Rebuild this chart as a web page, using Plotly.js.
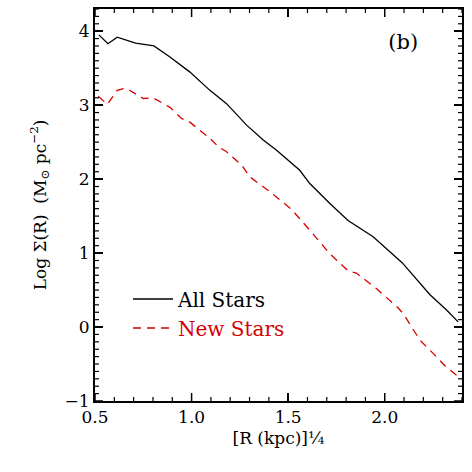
<!DOCTYPE html>
<html>
<head>
<meta charset="utf-8">
<script src="https://cdn.plot.ly/plotly-3.0.1.min.js"></script>
<style>
  html, body { margin: 0; padding: 0; background: #fff; }
  #plotDiv { width: 472px; height: 472px; }
</style>
</head>
<body>
<div id="plotDiv"></div>
<script>
// Surface density profiles
const allStarsR = [0.52, 0.567, 0.615, 0.71, 0.805, 0.888, 0.99, 1.095, 1.181, 1.285, 1.371, 1.44,
                   1.56, 1.612, 1.716, 1.81, 1.94, 2.009, 2.09, 2.233, 2.32, 2.38];
const allStarsSigma = [3.95, 3.83, 3.92, 3.84, 3.80, 3.65, 3.45, 3.20, 3.02, 2.73, 2.53, 2.39,
                       2.12, 1.94, 1.67, 1.44, 1.22, 1.06, 0.87, 0.44, 0.23, 0.07];

const newStarsR = [0.517, 0.564, 0.615, 0.66, 0.75, 0.80, 0.888, 0.948, 0.991, 1.095, 1.138, 1.181,
                   1.259, 1.302, 1.405, 1.518, 1.612, 1.716, 1.81, 1.853, 1.957, 2.065, 2.096,
                   2.148, 2.183, 2.252, 2.31, 2.38];
const newStarsSigma = [3.12, 3.01, 3.20, 3.23, 3.09, 3.10, 2.97, 2.82, 2.77, 2.55, 2.44, 2.37,
                       2.19, 2.03, 1.83, 1.59, 1.31, 0.99, 0.76, 0.73, 0.52, 0.27, 0.18,
                       -0.045, -0.18, -0.36, -0.52, -0.67];

const xTickVals = [0.5, 1.0, 1.5, 2.0];
const xTickText = ['0.5', '1.0', '1.5', '2.0'];
const yTickVals = [-1, 0, 1, 2, 3, 4];
const yTickText = ['−1', '0', '1', '2', '3', '4'];
const xRange = [0.5, 2.4];
const yRange = [-1, 4.3];

const fontFamily = 'DejaVu Serif, serif';
const red = '#d60000';

const traceAll = {
    x: allStarsR,
    y: allStarsSigma,
    mode: 'lines',
    name: 'All Stars',
    line: {color: 'black', width: 1.3}
};

const traceNew = {
    x: newStarsR,
    y: newStarsSigma,
    mode: 'lines',
    name: '<span style="color:' + red + '">New Stars</span>',
    line: {color: red, width: 1.3, dash: '8px,6px'}
};

function axisStyle(range, vals, text) {
    return {
        range: range,
        autorange: false,
        tickmode: 'array',
        tickvals: vals,
        ticktext: text,
        ticks: 'inside',
        ticklen: 8,
        tickwidth: 1.5,
        tickcolor: 'black',
        showline: true,
        linecolor: 'black',
        linewidth: 2,
        mirror: 'allticks',
        showgrid: false,
        zeroline: false,
        tickfont: {family: fontFamily, size: 17, color: 'black'}
    };
}

// the axis ticks did not show up in this setup, so the IDL-style inward
// ticks (major + minor every 0.1, all four sides) are also laid down as pixel-sized shapes
function tickShapes() {
    const shapes = [];
    const add = (axis, v, len, w) => {
        const line = {color: 'black', width: w};
        if (axis === 'x') {
            shapes.push({type: 'line', layer: 'above', xref: 'x', yref: 'paper', ysizemode: 'pixel',
                         yanchor: 0, x0: v, x1: v, y0: 0, y1: len, line: line});
            shapes.push({type: 'line', layer: 'above', xref: 'x', yref: 'paper', ysizemode: 'pixel',
                         yanchor: 1, x0: v, x1: v, y0: 0, y1: -len, line: line});
        } else {
            shapes.push({type: 'line', layer: 'above', xref: 'paper', yref: 'y', xsizemode: 'pixel',
                         xanchor: 0, x0: 0, x1: len, y0: v, y1: v, line: line});
            shapes.push({type: 'line', layer: 'above', xref: 'paper', yref: 'y', xsizemode: 'pixel',
                         xanchor: 1, x0: 0, x1: -len, y0: v, y1: v, line: line});
        }
    };
    for (let k = Math.ceil(xRange[0] * 10); k <= Math.floor(xRange[1] * 10); k++) {
        const major = k % 5 === 0;
        add('x', k / 10, major ? 8 : 4, major ? 1.5 : 1.2);
    }
    for (let k = Math.ceil(yRange[0] * 10); k <= Math.floor(yRange[1] * 10); k++) {
        const major = k % 10 === 0;
        add('y', k / 10, major ? 8 : 4, major ? 1.5 : 1.2);
    }
    return shapes;
}

const xaxis = axisStyle(xRange, xTickVals, xTickText);
xaxis.title = {text: '[R (kpc)]¼', font: {family: fontFamily, size: 17, color: 'black'}, standoff: 6};

const yaxis = axisStyle(yRange, yTickVals, yTickText);
yaxis.title = {text: 'Log Σ(R)  (M<sub>⊙</sub> pc<sup>−2</sup>)', font: {family: fontFamily, size: 17, color: 'black'}, standoff: 14};

const layout = {
    width: 472,
    height: 472,
    margin: {l: 95, r: 10, t: 9, b: 71},
    paper_bgcolor: 'white',
    plot_bgcolor: 'white',
    font: {family: fontFamily, color: 'black'},
    title: {
        text: '(b)',
        xref: 'paper',
        yref: 'paper',
        x: 0.84,
        y: 0.916,
        xanchor: 'center',
        yanchor: 'middle',
        font: {family: fontFamily, size: 21, color: 'black'}
    },
    xaxis: xaxis,
    yaxis: yaxis,
    shapes: tickShapes(),
    showlegend: true,
    legend: {
        x: 0.09,
        y: 0.31,
        xanchor: 'left',
        yanchor: 'top',
        bgcolor: 'rgba(0,0,0,0)',
        font: {family: fontFamily, size: 20, color: 'black'},
        itemwidth: 40,
        tracegroupgap: 0
    }
};

Plotly.newPlot('plotDiv', [traceAll, traceNew], layout, {staticPlot: true});
</script>
</body>
</html>
